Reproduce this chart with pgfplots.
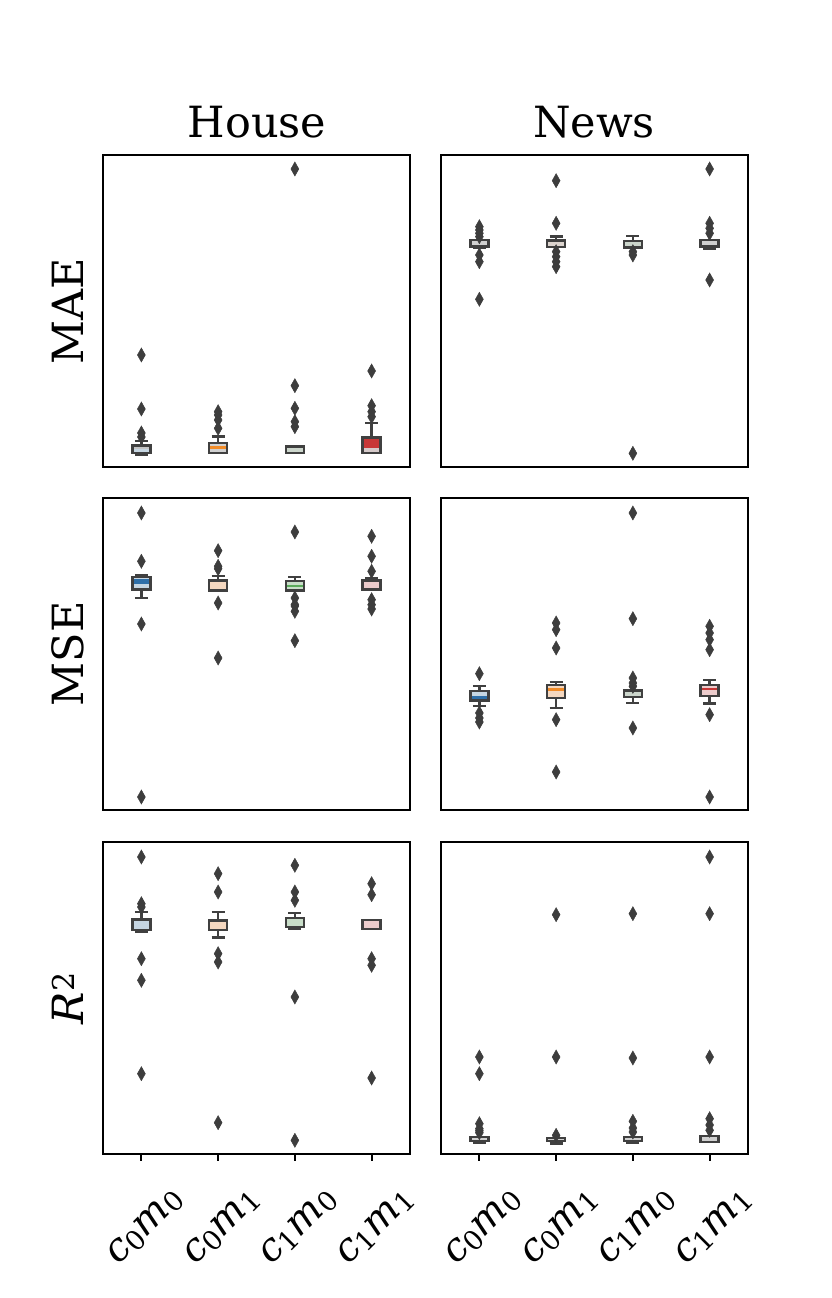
\documentclass[border=0pt]{standalone}
\usepackage{pgfplots}
\pgfplotsset{compat=1.18}
\usepackage{fontspec}
\setmainfont{DejaVu Serif}
\definecolor{boxgray}{HTML}{404040}
\definecolor{outc}{HTML}{3D3D3D}
\definecolor{lgray}{HTML}{D0D0D0}
\definecolor{lB}{HTML}{C6D6E2}
\definecolor{lO}{HTML}{F5D8C0}
\definecolor{lG}{HTML}{C9DEC9}
\definecolor{lR}{HTML}{ECCCCC}
\definecolor{lOg}{HTML}{DCD4CE}
\definecolor{lGg}{HTML}{CCD6CC}
\definecolor{lRg}{HTML}{D6CACA}
\definecolor{sB}{HTML}{2E6FA8}
\definecolor{sO}{HTML}{F28C28}
\definecolor{sG}{HTML}{5BAA5B}
\definecolor{sR}{HTML}{C83737}
\definecolor{bgray}{HTML}{C4C4C4}
% filled rectangle: x, y1, y2, width-half, colour
\newcommand\rect[5]{%
\pgfmathsetmacro\xl{#1-#4}\pgfmathsetmacro\xr{#1+#4}%
\addplot[draw=none, fill=#5] coordinates {(\xl,#2)(\xr,#2)(\xr,#3)(\xl,#3)} --cycle;}
% box: x, q1, q3, fill
\newcommand\bxfill[4]{\rect{#1}{#2}{#3}{0.1175}{#4}}
% band: x, lo, hi, colour
\newcommand\band[4]{\rect{#1}{#2}{#3}{0.105}{#4}}
% outline: x, q1, q3
\newcommand\bxline[3]{%
\pgfmathsetmacro\xl{#1-0.1175}\pgfmathsetmacro\xr{#1+0.1175}%
\addplot[draw=boxgray, line width=2.4pt] coordinates {(\xl,#2)(\xr,#2)(\xr,#3)(\xl,#3)} --cycle;}
% whisker: x, from, to
\newcommand\wh[3]{%
\pgfmathsetmacro\xl{#1-0.085}\pgfmathsetmacro\xr{#1+0.085}%
\addplot[draw=boxgray, line width=2.4pt] coordinates {(#1,#2)(#1,#3)};
\addplot[draw=boxgray, line width=2.4pt] coordinates {(\xl,#3)(\xr,#3)};}
\newcommand\outl[1]{\addplot[only marks, mark=diamond*, mark size=7pt, mark options={xscale=0.75, fill=outc, draw=outc, line width=0.5pt}] coordinates {#1};}
\newcommand\sub[1]{\raisebox{-0.1em}{\fontsize{27}{28}\selectfont #1}}
\pgfplotsset{
  panel/.style={scale only axis, width=307pt, height=312pt, anchor=south west,
    xmin=-0.5, xmax=3.5, ymin=0, ymax=312, ytick=\empty, xtick=\empty,
    axis line style={line width=1.8pt, black}},
  bottomrow/.style={xtick={0,1,2,3}, xtick pos=lower, tick align=outside,
    major tick length=7pt, tick style={line width=1.8pt, black},
    xticklabels={\textit{c}\sub{0}\textit{m}\sub{0},
                 \textit{c}\sub{0}\textit{m}\sub{1},
                 \textit{c}\sub{1}\textit{m}\sub{0},
                 \textit{c}\sub{1}\textit{m}\sub{1}},
    xticklabel style={font=\fontsize{39}{44}\selectfont, xshift=4pt, yshift=-66pt, rotate=45, anchor=center}}
}
\begin{document}
\begin{tikzpicture}[x=1pt,y=1pt]
\useasboundingbox (0,0) rectangle (831,1298);
\node[anchor=base, font=\fontsize{43}{50}\selectfont] at (257,1160) {House};
\node[anchor=base, font=\fontsize{43}{50}\selectfont] at (594,1160) {News};
\node[rotate=90, font=\fontsize{43}{50}\selectfont] at (68,987) {MAE};
\node[rotate=90, font=\fontsize{43}{50}\selectfont] at (68,644) {MSE};
\node[rotate=90, font=\fontsize{43}{50}\selectfont] at (68,300) {\textit{R}\textsuperscript{2}};

% House MAE
\begin{axis}[panel, at={(103pt,831pt)}]
\bxfill{0}{13.7}{21.3}{lB}\band{0}{17.5}{21.3}{bgray}\wh{0}{13.7}{12}\wh{0}{21.3}{26}\bxline{0}{13.7}{21.3}
\outl{(0,112)(0,58)(0,30)(0,34)}
\bxfill{1}{13.7}{23.7}{lgray}\band{1}{18.3}{20.5}{sO}\wh{1}{23.7}{30.3}\bxline{1}{13.7}{23.7}
\outl{(1,55.3)(1,52)(1,47)(1,38.7)}
\bxfill{2}{13.7}{20.3}{lGg}\bxline{2}{13.7}{20.3}
\outl{(2,298)(2,81.3)(2,58.7)(2,45.3)(2,40.3)}
\bxfill{3}{13.7}{29.3}{lRg}\band{3}{19.3}{28}{sR}\wh{3}{29.3}{43.7}\bxline{3}{13.7}{29.3}
\outl{(3,96)(3,61.3)(3,55.3)(3,50.3)}
\end{axis}

% News MAE
\begin{axis}[panel, at={(441pt,831pt)}]
\bxfill{0}{220.3}{227}{lgray}\wh{0}{220.3}{218.7}\bxline{0}{220.3}{227}
\outl{(0,240.3)(0,237)(0,233.7)(0,230.3)(0,212)(0,205.3)(0,167.7)}
\bxfill{1}{219.7}{226.3}{lOg}\wh{1}{226.3}{230.3}\bxline{1}{219.7}{226.3}
\outl{(1,286.3)(1,243.7)(1,215.3)(1,210.3)(1,205.3)(1,200.3)}
\bxfill{2}{219.3}{226}{lGg}\wh{2}{226}{231}\bxline{2}{219.3}{226}
\outl{(2,215.3)(2,212)(2,13.7)}
\bxfill{3}{220.3}{227}{lgray}\wh{3}{220.3}{217.7}\bxline{3}{220.3}{227}
\outl{(3,298)(3,243.7)(3,238.7)(3,233.7)(3,187)}
\end{axis}

% House MSE
\begin{axis}[panel, at={(103pt,488pt)}]
\bxfill{0}{220.3}{232.7}{lB}\band{0}{226}{231}{sB}\wh{0}{220.3}{212}\wh{0}{232.7}{234.7}\bxline{0}{220.3}{232.7}
\outl{(0,297)(0,248.7)(0,186)(0,13)}
\bxfill{1}{219.3}{229.3}{lO}\wh{1}{229.3}{233.7}\bxline{1}{219.3}{229.3}
\outl{(1,259.3)(1,243.7)(1,241.3)(1,207)(1,152)}
\bxfill{2}{219.3}{228.7}{lG}\band{2}{223.3}{224.7}{sG}\wh{2}{228.7}{232.7}\bxline{2}{219.3}{228.7}
\outl{(2,278)(2,212)(2,205.3)(2,204)(2,198.7)(2,169.3)}
\bxfill{3}{220.3}{229.3}{lR}\wh{3}{229.3}{232}\bxline{3}{220.3}{229.3}
\outl{(3,273.7)(3,253.7)(3,238.7)(3,210.3)(3,205.3)(3,201)}
\end{axis}

% News MSE
\begin{axis}[panel, at={(441pt,488pt)}]
\bxfill{0}{109.3}{118.7}{lB}\band{0}{110.8}{114}{sB}\wh{0}{109.3}{103.7}\wh{0}{118.7}{123.7}\bxline{0}{109.3}{118.7}
\outl{(0,136.3)(0,97)(0,92)(0,88)}
\bxfill{1}{112}{124.7}{lO}\band{1}{118.7}{122}{sO}\wh{1}{112}{102}\wh{1}{124.7}{127.7}\bxline{1}{112}{124.7}
\outl{(1,187)(1,180.3)(1,162)(1,90.3)(1,38)}
\bxfill{2}{112.7}{119.3}{lGg}\wh{2}{112.7}{107}\bxline{2}{112.7}{119.3}
\outl{(2,297)(2,191.3)(2,132)(2,127)(2,123.7)(2,82)}
\bxfill{3}{113.7}{124.7}{lR}\band{3}{119.5}{122}{sR}\wh{3}{113.7}{106.3}\wh{3}{124.7}{129.7}\bxline{3}{113.7}{124.7}
\outl{(3,183.7)(3,177)(3,170.3)(3,160.3)(3,95.3)(3,13)}
\end{axis}

% House R2
\begin{axis}[panel, bottomrow, at={(103pt,144pt)}]
\bxfill{0}{223.7}{234.3}{lB}\wh{0}{223.7}{222}\wh{0}{234.3}{242}\bxline{0}{223.7}{234.3}
\outl{(0,297)(0,250.3)(0,247)(0,195.3)(0,173.7)(0,80.3)}
\bxfill{1}{223.7}{233.3}{lO}\wh{1}{223.7}{216.3}\wh{1}{233.3}{242}\bxline{1}{223.7}{233.3}
\outl{(1,280.3)(1,262)(1,200.3)(1,192)(1,31.3)}
\bxfill{2}{227}{236}{lG}\wh{2}{227}{225}\wh{2}{236}{241}\bxline{2}{227}{236}
\outl{(2,288.7)(2,262)(2,253.7)(2,157)(2,13.7)}
\bxfill{3}{224.7}{233.7}{lR}\bxline{3}{224.7}{233.7}
\outl{(3,270.3)(3,259.3)(3,195.3)(3,188.7)(3,76)}
\end{axis}

% News R2
\begin{axis}[panel, bottomrow, at={(441pt,144pt)}]
\bxfill{0}{12.7}{17}{lgray}\wh{0}{12.7}{11}\bxline{0}{12.7}{17}
\outl{(0,97)(0,80.3)(0,30.3)(0,25.3)(0,21.3)(0,23.3)}
\bxfill{1}{13}{16}{lgray}\wh{1}{13}{10.3}\bxline{1}{13}{16}
\outl{(1,239.3)(1,97)(1,18.7)}
\bxfill{2}{13}{17}{lgray}\wh{2}{13}{11}\bxline{2}{13}{17}
\outl{(2,240.3)(2,96)(2,32.7)(2,26)(2,22)}
\bxfill{3}{12}{18}{lgray}\bxline{3}{12}{18}
\outl{(3,297)(3,240.3)(3,97)(3,35.3)(3,29)(3,23.7)}
\end{axis}
\end{tikzpicture}
\end{document}
